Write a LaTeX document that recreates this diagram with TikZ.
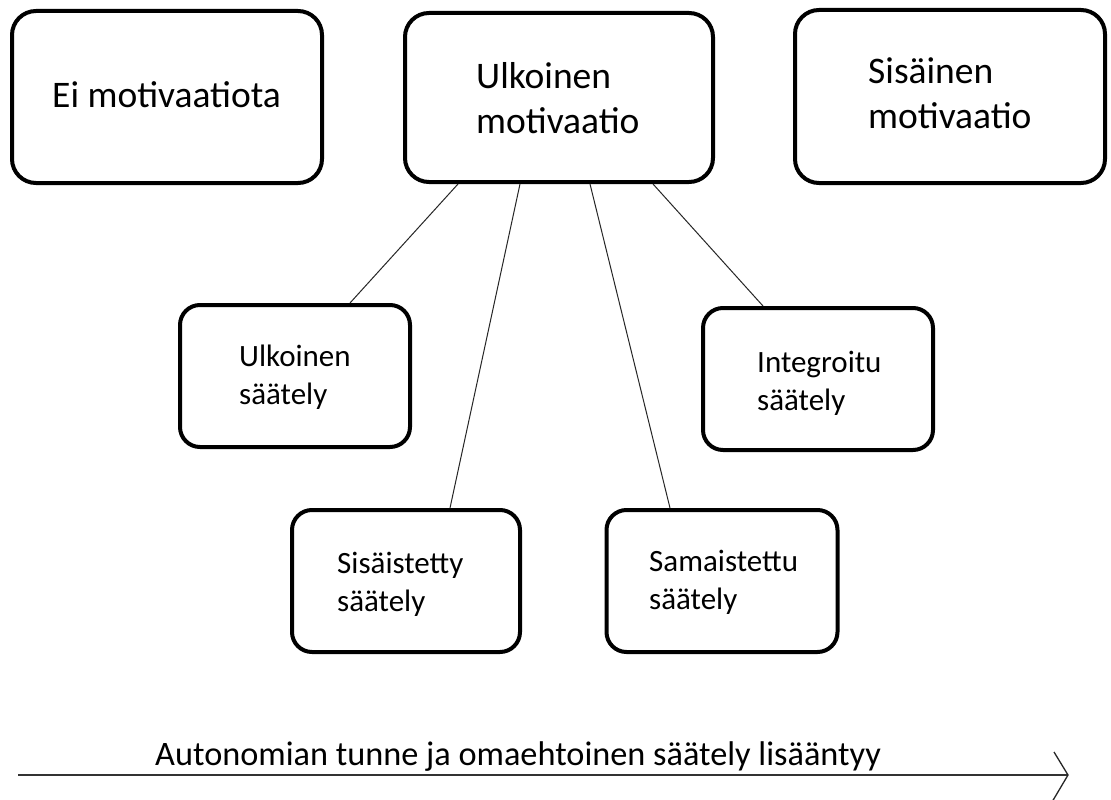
\documentclass[tikz,border=0pt]{standalone}
\usepackage{fontspec}
\setmainfont{Carlito}
\begin{document}
\begin{tikzpicture}[x=1pt,y=-1pt,
  bigbox/.style={draw=black, line width=4pt, rounded corners=24pt, inner sep=0pt},
  smallbox/.style={draw=black, line width=4pt, rounded corners=20pt, inner sep=0pt},
  bigtxt/.style={anchor=base west, inner sep=0pt, align=left, font=\fontsize{37.5}{45}\selectfont},
  smalltxt/.style={anchor=base west, inner sep=0pt, align=left, font=\fontsize{31}{38}\selectfont},
  conn/.style={draw=black!85, line width=1pt},
  axis/.style={draw=black!80, line width=1.6pt}
]
\useasboundingbox (0,0) rectangle (1111,800);
\fill[white] (0,0) rectangle (1111,800);

% top boxes
\node[bigbox, minimum width=310pt, minimum height=172pt] (b1) at (167,97) {};
\node[bigbox, minimum width=308pt, minimum height=169pt] (b2) at (559,97.5) {};
\node[bigbox, minimum width=310pt, minimum height=173pt] (b3) at (950,96.5) {};

% lower boxes
\node[smallbox, minimum width=230pt, minimum height=142pt] (b4) at (295,376) {};
\node[smallbox, minimum width=228pt, minimum height=142pt] (b5) at (406,581) {};
\node[smallbox, minimum width=231pt, minimum height=142pt] (b6) at (722,581) {};
\node[smallbox, minimum width=230pt, minimum height=142pt] (b7) at (818,379) {};

% texts (anchor at baseline of last line)
\node[bigtxt] (t1) at (52,107) {Ei motivaatiota};
\node[bigtxt] (t2) at (476,133) {Ulkoinen\\motivaatio};
\node[bigtxt] (t3) at (868,128) {Sisäinen\\motivaatio};
\node[smalltxt] (t4) at (239,404) {Ulkoinen\\säätely};
\node[smalltxt] (t5) at (337,611) {Sisäistetty\\säätely};
\node[smalltxt] (t6) at (649,609) {Samaistettu\\säätely};
\node[smalltxt] (t7) at (757,410) {Integroitu\\säätely};

% connectors
\draw[conn] ([xshift=-101pt]b2.south) -- ([xshift=55pt]b4.north);
\draw[conn] ([xshift=-39pt]b2.south) -- ([xshift=44pt]b5.north);
\draw[conn] ([xshift=31pt]b2.south) -- ([xshift=-52pt]b6.north);
\draw[conn] ([xshift=94pt]b2.south) -- ([xshift=-55pt]b7.north);

% axis arrow
\coordinate (a0) at (18,775);
\coordinate (a1) at (1068,775);
\coordinate (h1) at (1054,752);
\coordinate (h2) at (1052,802);
\draw[axis] (a0) -- (a1);
\draw[conn, line width=1.3pt] (h1) -- (a1) -- (h2);
\node[smalltxt, font=\fontsize{34.3}{40}\selectfont] (lab) at (155,765) {Autonomian tunne ja omaehtoinen säätely lisääntyy};
\end{tikzpicture}
\end{document}
